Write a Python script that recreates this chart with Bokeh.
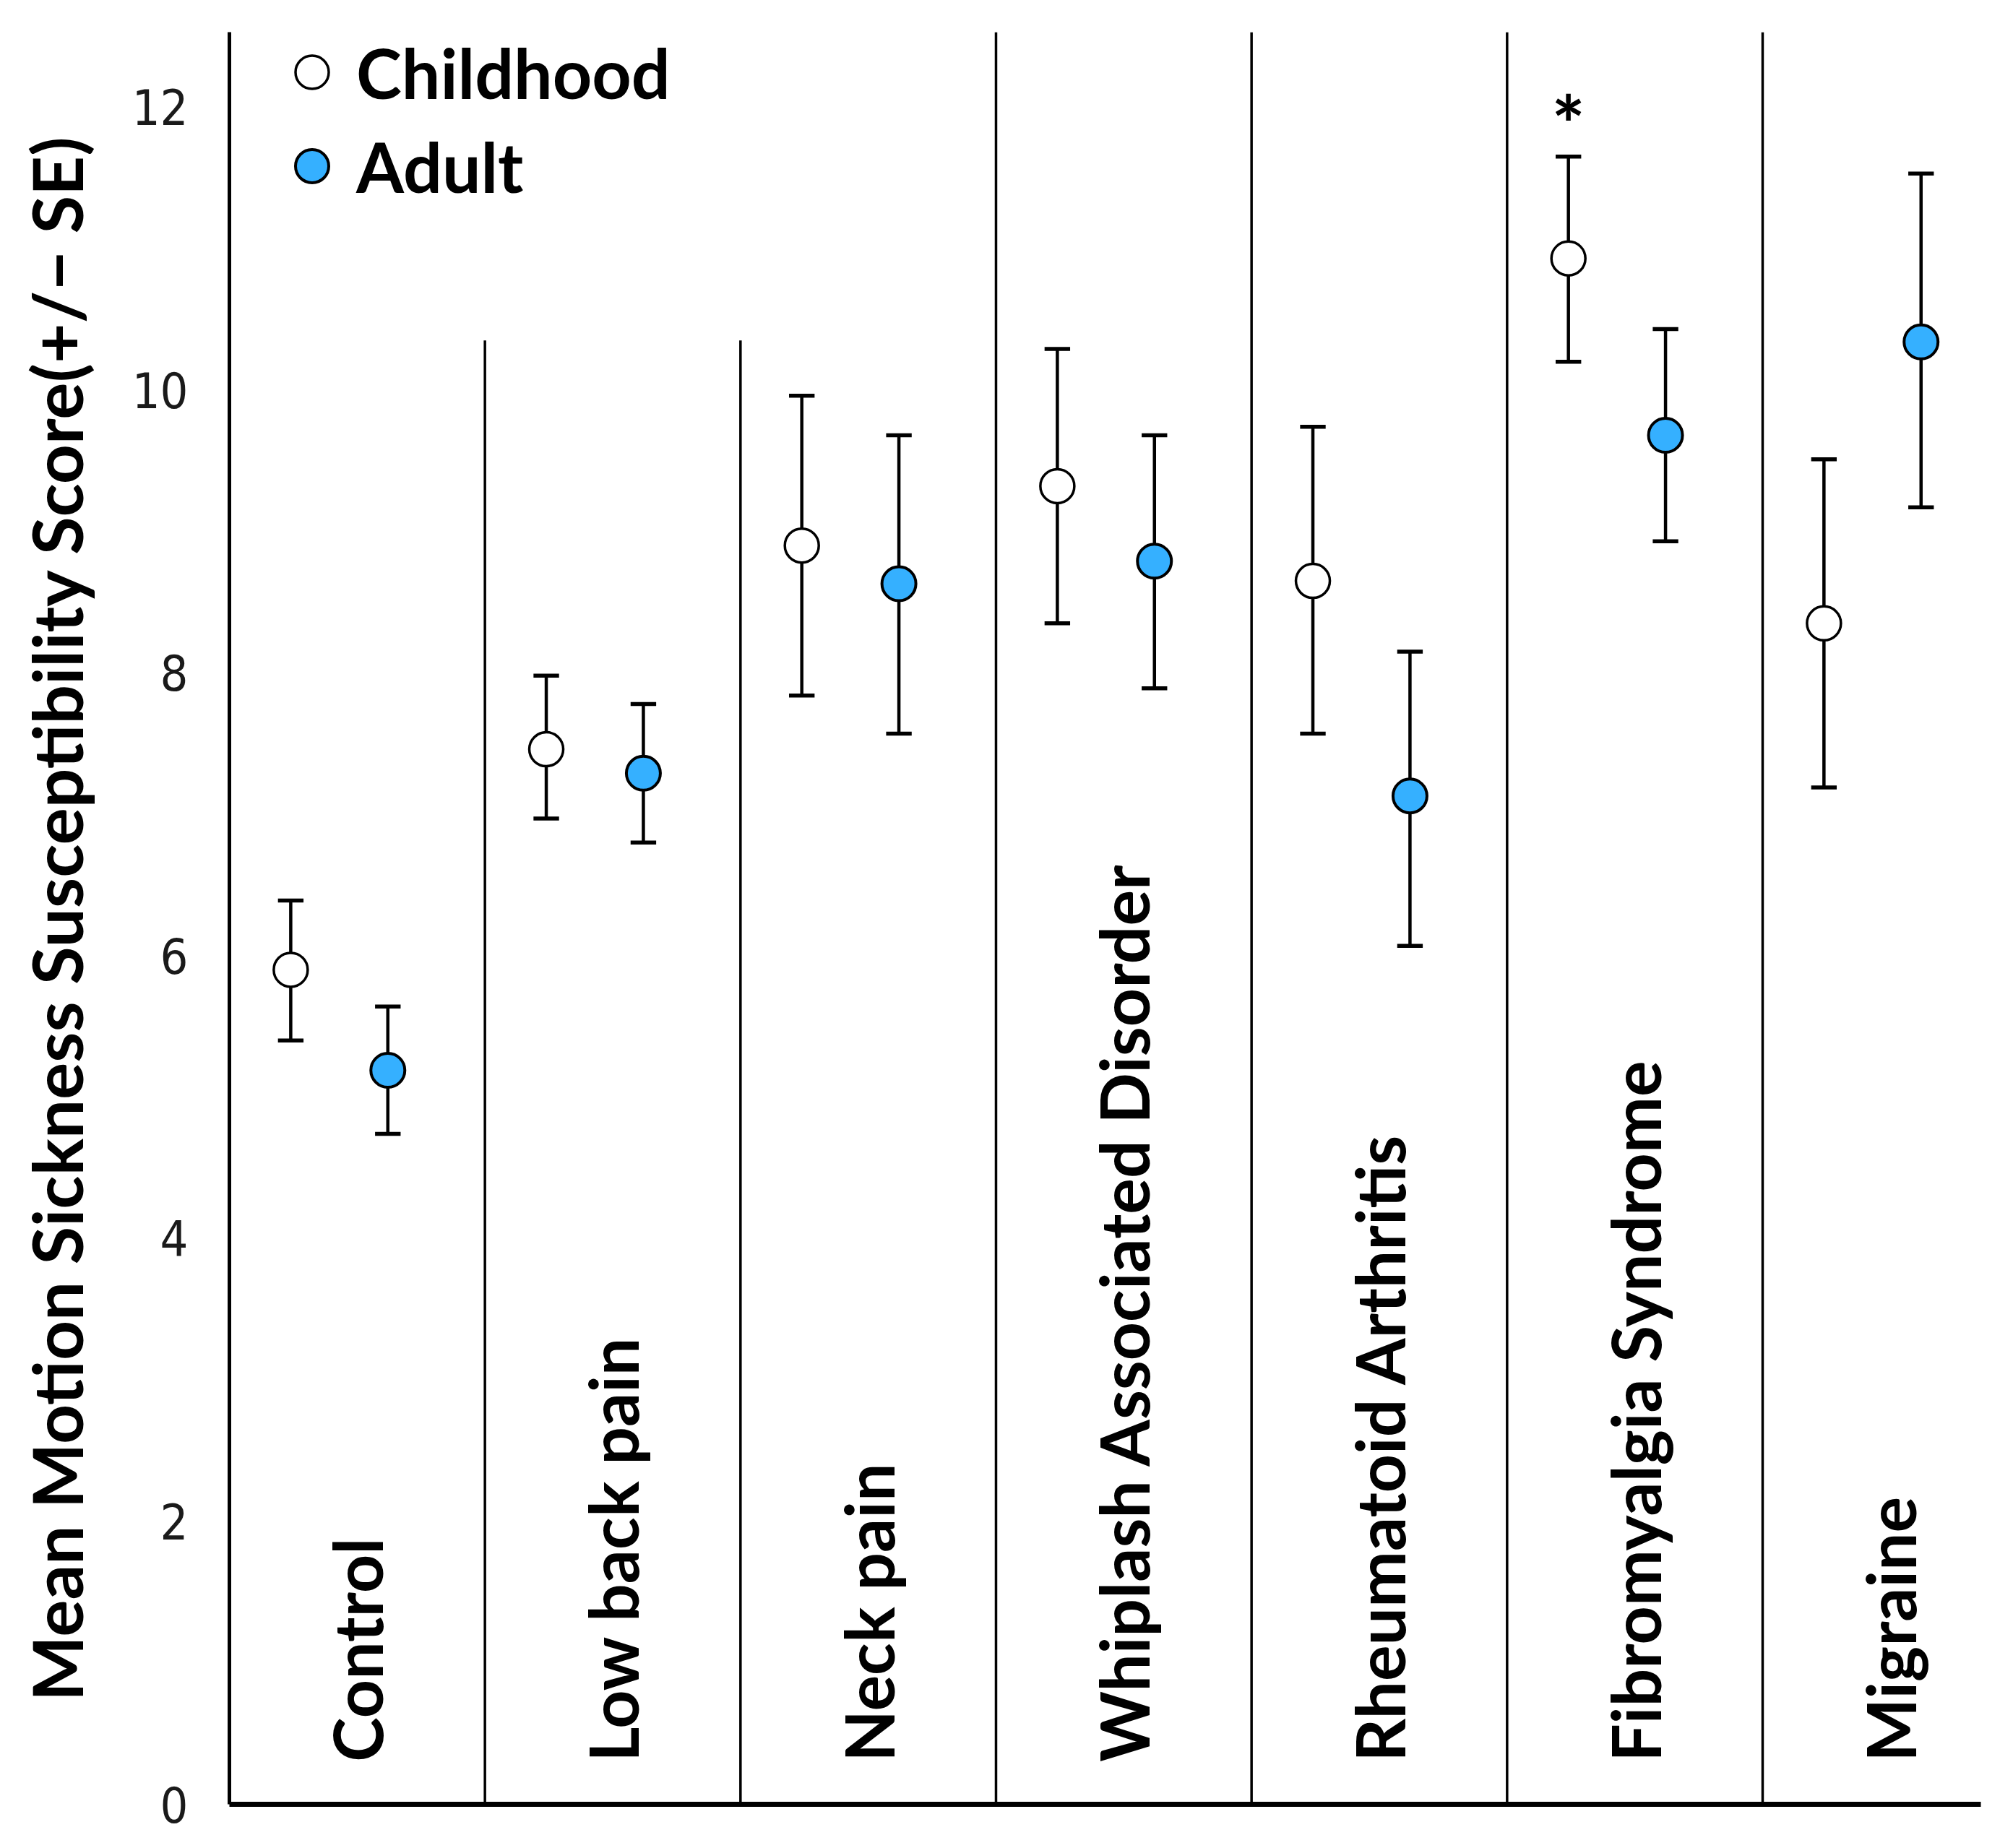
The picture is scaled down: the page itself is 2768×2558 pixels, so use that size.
import numpy as np
from bokeh.plotting import figure
from bokeh.models import Range1d, FixedTicker, Legend, LegendItem
from bokeh.core.properties import value
from bokeh.embed import file_html
from bokeh.resources import INLINE

categories = ["Control", "Low back pain", "Neck pain", "Whiplash Associated Disorder",
              "Rheumatoid Arthritis", "Fibromyalgia Syndrome", "Migraine"]
childhood_mean = [5.90, 7.46, 8.90, 9.32, 8.65, 10.93, 8.35]
childhood_upper = [6.39, 7.98, 9.96, 10.29, 9.74, 11.65, 9.51]
childhood_lower = [5.40, 6.97, 7.84, 8.35, 7.57, 10.20, 7.19]
adult_mean = [5.19, 7.29, 8.63, 8.79, 7.13, 9.68, 10.34]
adult_upper = [5.64, 7.78, 9.68, 9.68, 8.15, 10.43, 11.53]
adult_lower = [4.74, 6.80, 7.57, 7.89, 6.07, 8.93, 9.17]
y_ticks = [0, 2, 4, 6, 8, 10, 12]
significant = ["Fibromyalgia Syndrome"]

FONT = "Lato"
BLUE = "#35B0FF"
Y_TOP = 12.53
X_END = 6.854

p = figure(width=2752, height=2542, output_backend="svg", toolbar_location=None,
           x_range=Range1d(0, X_END), y_range=Range1d(0, Y_TOP),
           min_border_left=317, min_border_right=11, min_border_top=44, min_border_bottom=45)
p.grid.visible = False
p.outline_line_color = None
p.background_fill_color = "white"
p.border_fill_color = "white"

# y axis
ya = p.yaxis[0]
ya.ticker = FixedTicker(ticks=y_ticks)
ya.major_tick_line_color = None
ya.minor_tick_line_color = None
ya.major_tick_out = 0
ya.major_tick_in = 0
ya.axis_line_width = 5
ya.axis_line_color = "black"
ya.major_label_text_font = "'DejaVu Sans Condensed', 'DejaVu Sans', sans-serif"
ya.major_label_text_font_size = "68px"
ya.major_label_text_color = "#1a1a1a"
ya.major_label_standoff = 57
ya.axis_label = "Mean Motion Sickness Susceptibility Score(+/\u2212 SE)"
ya.axis_label_text_font = FONT
ya.axis_label_text_font_style = "bold"
ya.axis_label_text_font_size = "96px"
ya.axis_label_text_color = "black"
ya.axis_label_standoff = 45

# x axis (line only)
xa = p.xaxis[0]
xa.ticker = FixedTicker(ticks=[])
xa.major_tick_line_color = None
xa.minor_tick_line_color = None
xa.major_label_text_color = None
xa.axis_line_width = 7
xa.axis_line_color = "black"

idx = np.arange(len(categories))

# dividers
div_x = idx[1:].astype(float)
div_top = [10.35 if i in (1, 2) else Y_TOP for i in idx[1:]]
p.segment(x0=div_x, y0=[0] * len(div_x), x1=div_x, y1=div_top, line_color="black", line_width=3.5)

xc = idx + 0.24
xa_ = idx + 0.62
cap = 0.05

for xs, lo, hi in ((xc, childhood_lower, childhood_upper), (xa_, adult_lower, adult_upper)):
    p.segment(x0=xs, y0=lo, x1=xs, y1=hi, line_color="black", line_width=4.5)
    p.segment(x0=xs - cap, y0=hi, x1=xs + cap, y1=hi, line_color="black", line_width=5.5)
    p.segment(x0=xs - cap, y0=lo, x1=xs + cap, y1=lo, line_color="black", line_width=5.5)

r_child = p.scatter(xc, childhood_mean, size=47, fill_color="white", line_color="black", line_width=3.5)
r_adult = p.scatter(xa_, adult_mean, size=47, fill_color=BLUE, line_color="black", line_width=4)

# category labels
p.text(x=idx + 0.50, y=[0.30] * len(categories), text=categories, angle=np.pi / 2,
       text_align="left", text_baseline="alphabetic", text_font=value(FONT),
       text_font_style="bold", text_font_size="93px", text_color="black")

# significance marker
sig_i = [categories.index(c) for c in significant]
p.text(x=[xc[i] for i in sig_i], y=[childhood_upper[i] + 0.24 for i in sig_i], text=["*"] * len(sig_i),
       text_align="center", text_baseline="alphabetic", text_font=value(FONT),
       text_font_style="bold", text_font_size="110px", text_color="black")

legend = Legend(items=[LegendItem(label="Childhood", renderers=[r_child]),
                       LegendItem(label="Adult", renderers=[r_adult])],
                location=(57, 2210), glyph_width=115, glyph_height=115, spacing=15,
                label_standoff=4, padding=0, margin=0, border_line_color=None,
                background_fill_alpha=0, label_text_font=FONT, label_text_font_style="bold",
                label_text_font_size="95px", label_text_color="black")
p.add_layout(legend)

open("out.html", "w").write(file_html(p, INLINE))
